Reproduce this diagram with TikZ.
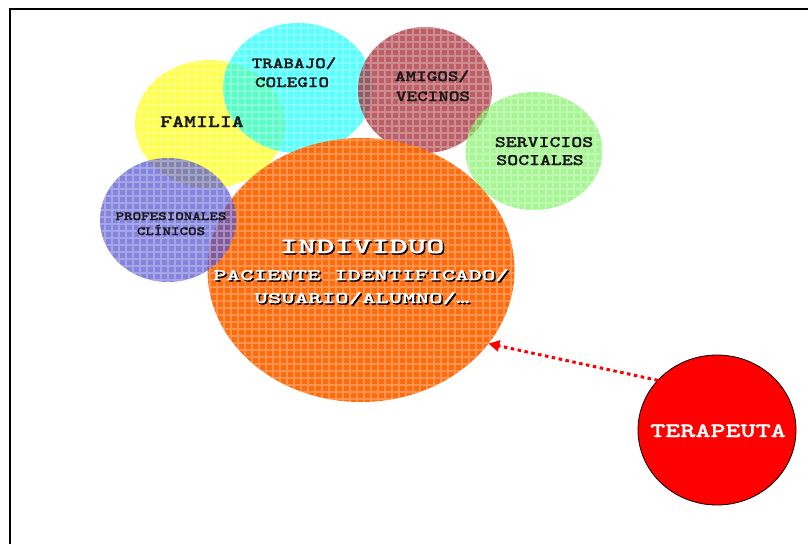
\documentclass[tikz,border=0pt]{standalone}
\usepackage{fontspec}
\usetikzlibrary{shapes.geometric,arrows.meta}
\newfontfamily\lblfont{lmmonolt10-bold.otf}[FakeStretch=1.3,FakeBold=1.4]
\newfontfamily\indfont{lmmonolt10-bold.otf}[FakeStretch=1.6,FakeBold=1.4]
\newfontfamily\terfont{lmmonolt10-bold.otf}[FakeStretch=1.4,FakeBold=1.2]
\definecolor{cYel}{RGB}{255,255,0}
\definecolor{cCya}{RGB}{0,255,255}
\definecolor{cBro}{RGB}{165,40,50}
\definecolor{cGre}{RGB}{120,240,90}
\definecolor{cBlu}{RGB}{80,80,210}
\definecolor{cOra}{RGB}{255,100,0}
\definecolor{cTxt}{RGB}{25,25,25}
\tikzset{
  circ/.style={ellipse, inner sep=0pt, outer sep=0pt, draw=none},
  lbl/.style={anchor=base, inner sep=0pt, text=cTxt},
  shad/.style={anchor=base, inner sep=0pt, text=black},
  wtxt/.style={anchor=base, inner sep=0pt, text=white},
  texgrid/.style={white, opacity=0.28, line width=1.2pt}
}
% #1 name, #2 colour, #3 opacity, #4 x, #5 y, #6 x radius, #7 y radius
\newcommand\myblob[7]{%
  \node[circ, fill=#2, fill opacity=#3, minimum width={2*#6pt}, minimum height={2*#7pt}] (#1) at (#4,#5) {};
  \begin{scope}
    \clip (#4,#5) ellipse [x radius=#6pt, y radius=#7pt];
    \draw[texgrid, step=7pt] (#4-#6-7,#5-#7-7) grid (#4+#6+7,#5+#7+7);
  \end{scope}
}
\begin{document}
\begin{tikzpicture}[x=1pt,y=-1pt]
\useasboundingbox (0,0) rectangle (808,544);
\draw[line width=2pt, black] (10,544) -- (10,9) -- (808,9);
% circles
\myblob{fam}{cYel}{0.7}{210}{124}{75}{64}
\myblob{tra}{cCya}{0.65}{298}{88}{75}{65}
\myblob{ami}{cBro}{0.75}{425}{90}{67}{63}
\myblob{ser}{cGre}{0.65}{534}{151}{68.5}{59}
\myblob{ind}{cOra}{0.95}{361}{270}{153.5}{132}
\myblob{pro}{cBlu}{0.7}{168}{220}{68}{62}
\node[circ, fill=red, draw=black, line width=0.8pt, minimum width=158pt, minimum height=150pt] (ter) at (717,430) {};
% labels
\node[lbl, font=\lblfont\fontsize{17.5}{20}\selectfont] (tfam) at (202,127) {FAMILIA};
\node[lbl, font=\lblfont\fontsize{15.5}{18}\selectfont] (ttra1) at (294,68) {TRABAJO/};
\node[lbl, font=\lblfont\fontsize{15.5}{18}\selectfont] (ttra2) at (292,87) {COLEGIO};
\node[lbl, font=\lblfont\fontsize{15.5}{18}\selectfont] (tami1) at (432,81) {AMIGOS/};
\node[lbl, font=\lblfont\fontsize{15.5}{18}\selectfont] (tami2) at (433,101) {VECINOS};
\node[lbl, font=\lblfont\fontsize{16}{18}\selectfont] (tser1) at (544,147) {SERVICIOS};
\node[lbl, font=\lblfont\fontsize{16}{18}\selectfont] (tser2) at (540,165) {SOCIALES};
\node[lbl, font=\lblfont\fontsize{12.5}{15}\selectfont] (tpro1) at (171,220) {PROFESIONALES};
\node[lbl, font=\lblfont\fontsize{12.5}{15}\selectfont] (tpro2) at (171,235) {CLÍNICOS};
% individuo texts with shadow
\node[shad, font=\indfont\fontsize{21.8}{24}\selectfont] (sind1) at (363.5,254.5) {INDIVIDUO};
\node[wtxt, font=\indfont\fontsize{21.8}{24}\selectfont] (tind1) at (362,253) {INDIVIDUO};
\node[shad, font=\indfont\fontsize{16}{18}\selectfont] (sind2) at (362.5,281.5) {PACIENTE IDENTIFICADO/};
\node[wtxt, font=\indfont\fontsize{16}{18}\selectfont] (tind2) at (361,280) {PACIENTE IDENTIFICADO/};
\node[shad, font=\indfont\fontsize{16}{18}\selectfont] (sind3) at (363.5,304.5) {USUARIO/ALUMNO/…};
\node[wtxt, font=\indfont\fontsize{16}{18}\selectfont] (tind3) at (362,303) {USUARIO/ALUMNO/…};
\node[wtxt, font=\terfont\fontsize{20.5}{24}\selectfont] (tter) at (718,437) {TERAPEUTA};
% arrow
\draw[red, line width=3pt, dash pattern=on 3.5pt off 3.5pt, -{Triangle[length=11pt,width=11pt]}] (ter.140) -- (ind.-30);
\end{tikzpicture}
\end{document}
